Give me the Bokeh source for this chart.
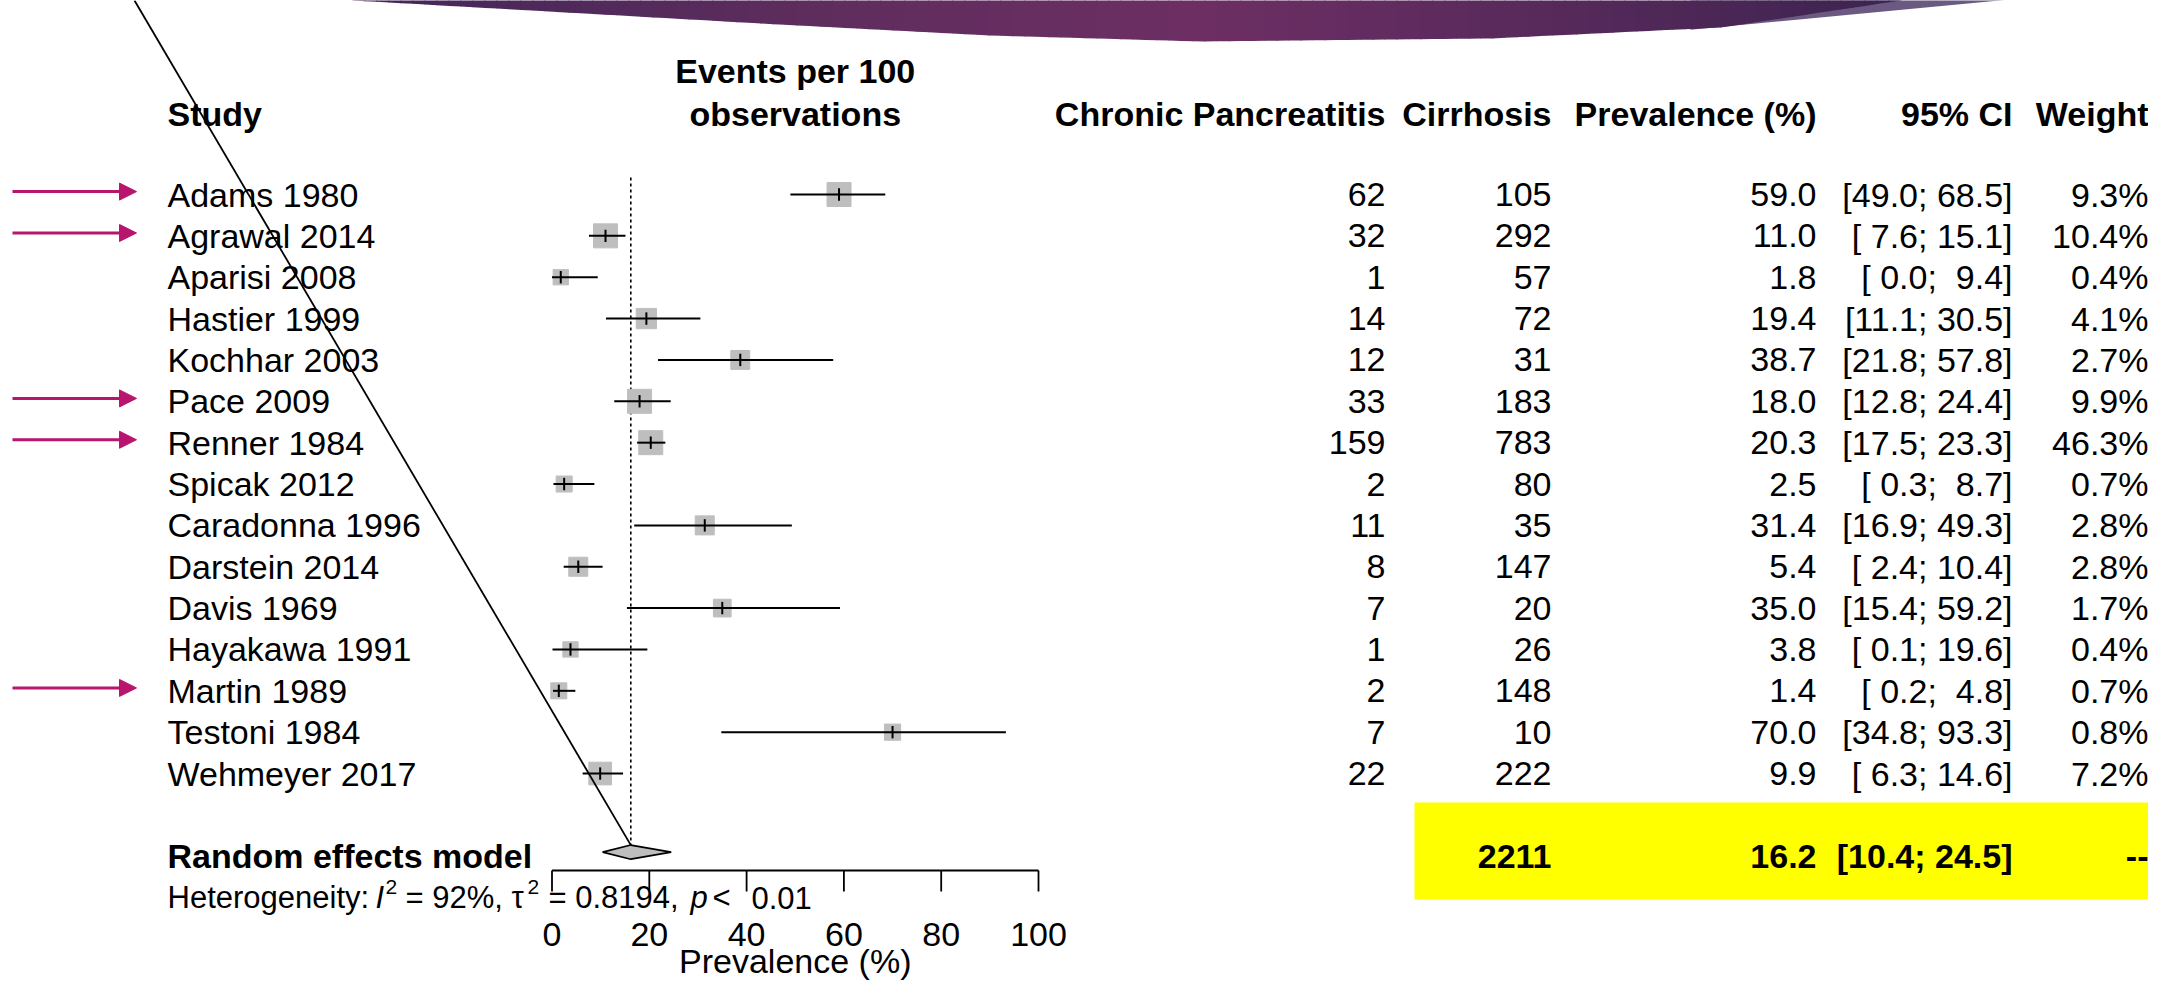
import numpy as np
from bokeh.plotting import figure
from bokeh.models import Range1d, Arrow, NormalHead
from bokeh.core.properties import value
from bokeh.embed import file_html
from bokeh.resources import INLINE

# ---------------- data ----------------
studies = ["Adams 1980", "Agrawal 2014", "Aparisi 2008", "Hastier 1999", "Kochhar 2003",
           "Pace 2009", "Renner 1984", "Spicak 2012", "Caradonna 1996", "Darstein 2014",
           "Davis 1969", "Hayakawa 1991", "Martin 1989", "Testoni 1984", "Wehmeyer 2017"]
events = [62, 32, 1, 14, 12, 33, 159, 2, 11, 8, 7, 1, 2, 7, 22]
totals = [105, 292, 57, 72, 31, 183, 783, 80, 35, 147, 20, 26, 148, 10, 222]
prevalence = [59.0, 11.0, 1.8, 19.4, 38.7, 18.0, 20.3, 2.5, 31.4, 5.4, 35.0, 3.8, 1.4, 70.0, 9.9]
ci_lower = [49.0, 7.6, 0.0, 11.1, 21.8, 12.8, 17.5, 0.3, 16.9, 2.4, 15.4, 0.1, 0.2, 34.8, 6.3]
ci_upper = [68.5, 15.1, 9.4, 30.5, 57.8, 24.4, 23.3, 8.7, 49.3, 10.4, 59.2, 19.6, 4.8, 93.3, 14.6]
weights = [9.3, 10.4, 0.4, 4.1, 2.7, 9.9, 46.3, 0.7, 2.8, 2.8, 1.7, 0.4, 0.7, 0.8, 7.2]
highlighted = ["Adams 1980", "Agrawal 2014", "Pace 2009", "Renner 1984", "Martin 1989"]

pooled_label = "Random effects model"
pooled_total = 2211
pooled_est = 16.2
pooled_lower = 10.4
pooled_upper = 24.5
pooled_weight = "--"
het_I2 = "92%"
het_tau2 = "0.8194"
het_p = "0.01"

x_ticks = [0, 20, 40, 60, 80, 100]
x_label = "Prevalence (%)"
col_headers = ["Chronic Pancreatitis", "Cirrhosis", "Prevalence (%)", "95% CI", "Weight"]
forest_header = ["Events per 100", "observations"]
study_header = "Study"

# ---------------- geometry (picture pixels -> data) ----------------
W, H = 2148, 980
PX0, PXU = 551.5, 4.865          # picture x of value 0, px per unit
PY0, PYR = 194.0, 41.36          # picture y of row 0, px per row


def dx(px):
    return (px - PX0) / PXU


def dy(py):
    return (py - PY0) / PYR


p = figure(width=W, height=H, output_backend="svg", toolbar_location=None,
           x_range=Range1d(dx(0), dx(W)), y_range=Range1d(dy(H), dy(0)),
           x_axis_location=None, y_axis_location=None, min_border=0,
           outline_line_color=None, background_fill_color="white")
p.grid.visible = False

FONT = value("Liberation Sans")
FS = "34px"
NBSP = "\u00a0"

# ---------------- decorative swoosh at top ----------------
edge_x = [352, 530, 760, 990, 1200, 1490, 1720, 1900]
edge_y = [0, 10, 23, 35, 41, 38, 27, 0]
col_x = [352, 800, 1200, 1550, 1900]
col_rgb = [(0x44, 0x27, 0x5A), (0x5E, 0x2D, 0x5E), (0x6D, 0x2F, 0x64), (0x58, 0x2A, 0x5C), (0x3D, 0x24, 0x50)]
p.patch([dx(1690), dx(2052), dx(1690)], [dy(-5), dy(-5), dy(29.2)],
        fill_color="#6A5A82", line_color=None)
xs_s, ys_s, cs_s = [], [], []
xx = np.linspace(352, 1900, 130)
for a, b in zip(xx[:-1], xx[1:]):
    ya, yb = np.interp(a, edge_x, edge_y), np.interp(b, edge_x, edge_y)
    xs_s.append([dx(a), dx(b + 0.8), dx(b + 0.8), dx(a)])
    ys_s.append([dy(-5), dy(-5), dy(yb), dy(ya)])
    m = (a + b) / 2
    rgb = [int(np.interp(m, col_x, [c[k] for c in col_rgb])) for k in range(3)]
    cs_s.append("#%02x%02x%02x" % tuple(rgb))
p.patches(xs_s, ys_s, fill_color=cs_s, line_color=None)

# ---------------- yellow highlight box ----------------
p.quad(left=[dx(1414)], right=[dx(2170)], top=[dy(802)], bottom=[dy(899)],
       fill_color="#FFFF00", line_color=None)

rows = list(range(len(studies)))
row_re = len(studies) + 1
diamond_row = row_re - 0.1

# ---------------- forest marks ----------------
p.segment(x0=[pooled_est], y0=[dy(177)], x1=[pooled_est], y1=[diamond_row - 0.17],
          line_color="black", line_width=1.6, line_dash="3 3")

sizes = [13 + 11 * min(1.0, np.sqrt(w / 9.3)) for w in weights]
p.scatter(x=prevalence, y=rows, size=sizes, marker="square",
          fill_color="#BEBEBE", line_color="#BEBEBE")
p.segment(x0=ci_lower, y0=rows, x1=ci_upper, y1=rows, line_color="black", line_width=2)
p.segment(x0=prevalence, y0=[r - 0.15 for r in rows], x1=prevalence, y1=[r + 0.15 for r in rows],
          line_color="black", line_width=2)

hd = 0.17
p.patch([pooled_lower, pooled_est, pooled_upper, pooled_est],
        [diamond_row, diamond_row - hd, diamond_row, diamond_row + hd],
        fill_color="#BEBEBE", line_color="black", line_width=1.6)

# ---------------- x axis ----------------
axis_r = dy(870)
tick_r = dy(891)
p.segment(x0=[min(x_ticks)], y0=[axis_r], x1=[max(x_ticks)], y1=[axis_r],
          line_color="black", line_width=1.8)
p.segment(x0=x_ticks, y0=[axis_r] * len(x_ticks), x1=x_ticks, y1=[tick_r] * len(x_ticks),
          line_color="black", line_width=1.8)
p.text(x=x_ticks, y=[dy(934)] * len(x_ticks), text=[str(t) for t in x_ticks],
       text_align="center", text_baseline="middle", text_font=FONT, text_font_size=FS)
p.text(x=[50], y=[dy(960)], text=[x_label], text_align="center", text_baseline="middle",
       text_font=FONT, text_font_size=FS)

# ---------------- headers ----------------
hdr_r = dy(113)
p.text(x=[dx(167)], y=[hdr_r], text=[study_header], text_align="left", text_baseline="middle",
       text_font=FONT, text_font_size=FS, text_font_style="bold")
p.text(x=[50, 50], y=[dy(70), hdr_r], text=forest_header, text_align="center",
       text_baseline="middle", text_font=FONT, text_font_size=FS, text_font_style="bold")
col_right = [dx(1385), dx(1551), dx(1816), dx(2012), dx(2148)]
p.text(x=col_right, y=[hdr_r] * 5, text=col_headers, text_align="right", text_baseline="middle",
       text_font=FONT, text_font_size=FS, text_font_style="bold")

# ---------------- study rows ----------------
p.text(x=[dx(167)] * len(studies), y=rows, text=studies, text_align="left",
       text_baseline="middle", text_font=FONT, text_font_size=FS)


def ci_str(lo, hi):
    return ("[" + f"{lo:4.1f}" + ";" + f"{hi:5.1f}" + "]").replace("  ", NBSP + " ")


columns = [
    [str(e) for e in events],
    [str(t) for t in totals],
    [f"{v:.1f}" for v in prevalence],
    [ci_str(lo, hi) for lo, hi in zip(ci_lower, ci_upper)],
    [f"{w:.1f}%" for w in weights],
]
for xr, vals in zip(col_right, columns):
    p.text(x=[xr] * len(vals), y=rows, text=vals, text_align="right", text_baseline="middle",
           text_font=FONT, text_font_size=FS)

# ---------------- pooled row ----------------
p.text(x=[dx(167)], y=[row_re], text=[pooled_label], text_align="left", text_baseline="middle",
       text_font=FONT, text_font_size=FS, text_font_style="bold")
p.text(x=col_right[1:], y=[row_re] * 4,
       text=[str(pooled_total), f"{pooled_est:.1f}", ci_str(pooled_lower, pooled_upper), pooled_weight],
       text_align="right", text_baseline="middle", text_font=FONT, text_font_size=FS,
       text_font_style="bold")

# ---------------- heterogeneity line ----------------
HF = "31px"
SF = "21px"
het_r = dy(897)
sup_r = dy(886)
segs = [
    (167, het_r, "Heterogeneity:", "normal", HF),
    (375, het_r, "I", "italic", HF),
    (385, sup_r, "2", "normal", SF),
    (405, het_r, "= " + het_I2 + ", \u03c4", "normal", HF),
    (527, sup_r, "2", "normal", SF),
    (548, het_r, "= " + het_tau2 + ",", "normal", HF),
    (690, het_r, "p", "italic", HF),
    (712, het_r, "<", "normal", HF),
    (751, het_r, het_p, "normal", HF),
]
for px, yy, txt, style, fs in segs:
    p.text(x=[dx(px)], y=[yy], text=[txt], text_align="left", text_baseline="middle",
           text_font=FONT, text_font_size=fs, text_font_style=style)

# ---------------- arrows ----------------
for name in highlighted:
    r = studies.index(name) - 0.07
    p.add_layout(Arrow(x_start=dx(12), y_start=r, x_end=dx(136), y_end=r,
                       line_color="#B8156E", line_width=3,
                       end=NormalHead(size=17, fill_color="#B8156E", line_color="#B8156E")))

# ---------------- diagonal line ----------------
p.segment(x0=[dx(134)], y0=[dy(0)], x1=[pooled_est], y1=[diamond_row - hd],
          line_color="black", line_width=1.8)

open("out.html", "w").write(file_html(p, INLINE))
